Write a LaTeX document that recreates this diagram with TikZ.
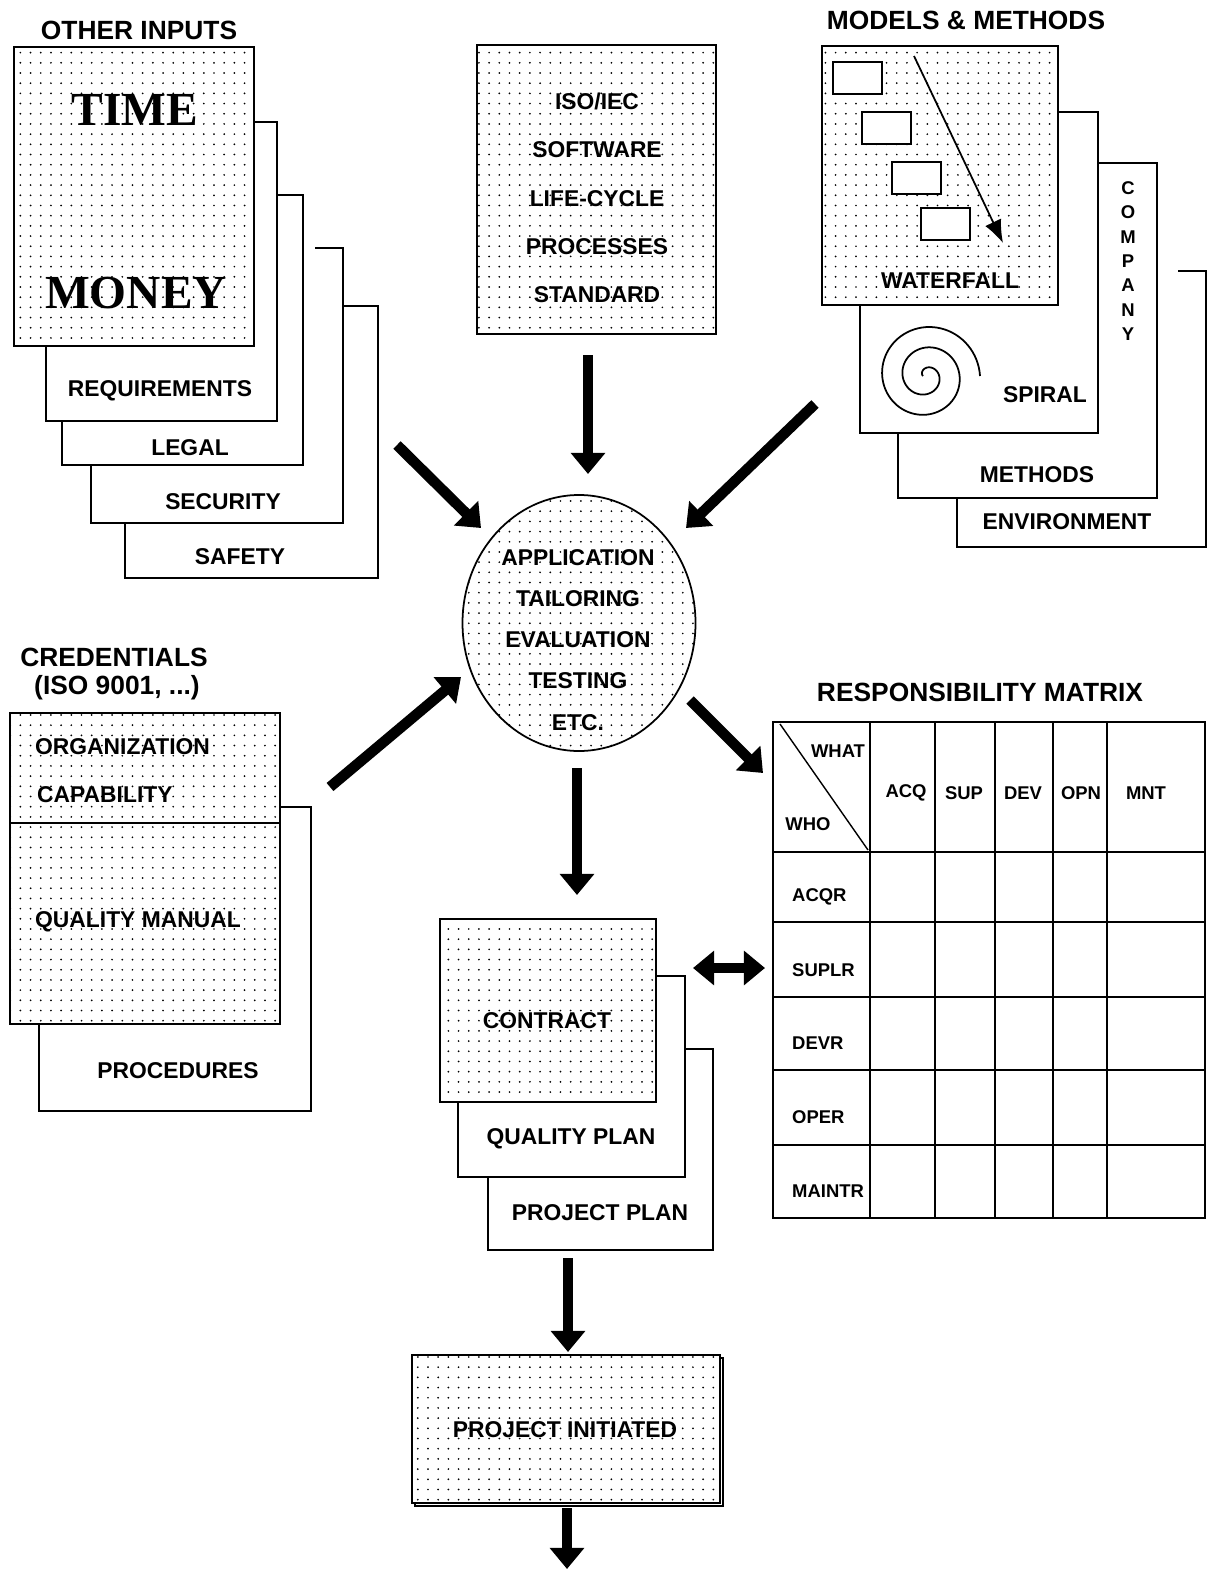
\documentclass[tikz,border=0pt]{standalone}
\usepackage{fontspec}
\setmainfont{Liberation Sans}
\newfontfamily\moneyfont{Liberation Serif}
\usetikzlibrary{arrows.meta,patterns.meta,shapes.geometric}

\tikzset{
  sheet/.style={draw, line width=1pt, fill=white},
  dotsheet/.style={draw, line width=1pt, fill=white,
    postaction={pattern={Dots[distance=5.8pt, radius=0.55pt]}}},
  bigarrow/.style={line width=6pt, -{Triangle[length=12pt,width=19pt]}},
  dblarrow/.style={line width=6pt, {Triangle[length=12pt,width=19pt]}-{Triangle[length=12pt,width=19pt]}},
  title/.style={font=\fontsize{15}{18}\selectfont\bfseries},
  lbl/.style={font=\fontsize{13}{16}\selectfont\bfseries},
  small/.style={font=\fontsize{10.5}{12}\selectfont\bfseries},
  bigword/.style={font=\moneyfont\bfseries\fontsize{27}{30}\selectfont},
}

\begin{document}
\begin{tikzpicture}[x=0.02cm, y=-0.02cm]
    \useasboundingbox (0,0) rectangle (1208,1571);
    %% Other inputs
    \node[title] (otherttl) at (139,30) {OTHER INPUTS};
    \draw[sheet] (125,306) rectangle (378,578);
    \fill[white] (91,248) rectangle (343,523);
    \draw[line width=1pt] (315,248) -- (343,248) -- (343,523) -- (91,523) -- (91,465);
    \draw[sheet] (62,195) rectangle (303,465);
    \draw[sheet] (46,122) rectangle (277,421);
    \draw[dotsheet] (14,47) rectangle (254,346);
    \node[bigword] (time) at (135,110) {TIME};
    \node[bigword] (money) at (136,293) {MONEY};
    \node[lbl] (req) at (160,391) {REQUIREMENTS};
    \node[lbl] (legal) at (190,448) {LEGAL};
    \node[lbl] (secu) at (223,502) {SECURITY};
    \node[lbl] (safety) at (240,557) {SAFETY};

    %% Standard
    \draw[dotsheet] (477,45) rectangle (716,334);
    \node[lbl, align=center, font=\fontsize{13}{27.5}\selectfont\bfseries] (iso) at (597,198)
        {ISO/IEC\\SOFTWARE\\LIFE-CYCLE\\PROCESSES\\STANDARD};

    %% Models and methods
    \node[title] (modttl) at (966,20) {MODELS \& METHODS};
    \fill[white] (957,271) rectangle (1206,547);
    \draw[line width=1pt] (1178,271) -- (1206,271) -- (1206,547) -- (957,547) -- (957,498);
    \draw[sheet] (898,163) rectangle (1157,498);
    \draw[sheet] (860,112) rectangle (1098,433);
    \draw[dotsheet] (822,46) rectangle (1058,305);
    \foreach \x/\y in {833/62, 862/112, 892/162, 921/208}
        \draw[sheet] (\x,\y) rectangle ++(49,32);
    \coordinate (wftop) at (914,56);
    \coordinate (wfend) at (1003,243);
    \draw[line width=1pt, -{Latex[length=13pt,width=10pt]}] (wftop) to (wfend);
    \node[lbl] (wfall) at (950,281) {WATERFALL};
    \draw[line width=1pt] plot[domain=180:1080, samples=200, smooth]
        ({926+(3+(\x-180)/900*51)*cos(\x)}, {376+(3+(\x-180)/900*51)*sin(\x)});
    \node[lbl] (spiral) at (1045,395) {SPIRAL};
    \foreach \l [count=\i] in {C,O,M,P,A,N,Y}
        \node[small] (comp\i) at (1128,164+24.3*\i) {\l};
    \node[lbl] (methods) at (1037,475) {METHODS};
    \node[lbl] (envir) at (1067,522) {ENVIRONMENT};

    %% Central bubble
    \node[dotsheet, ellipse, minimum width=233*0.02cm, minimum height=256*0.02cm] (bubble) at (579,623) {};
    \node[align=center, font=\fontsize{13}{23.4}\selectfont\bfseries] (bubtxt) at (578,640)
        {APPLICATION\\TAILORING\\EVALUATION\\TESTING\\ETC.};

    %% Credentials
    \node[title] (credttl) at (114,657) {CREDENTIALS};
    \node[title] (credsub) at (117,688) {(ISO 9001, ...)};
    \draw[sheet] (39,807) rectangle (311,1111);
    \draw[dotsheet] (10,713) rectangle (280,1024);
    \draw[line width=1pt] (10,823) -- (280,823);
    \node[lbl, anchor=west] (orga) at (29,747) {ORGANIZATION};
    \node[lbl, anchor=west] (capa) at (31,795) {CAPABILITY};
    \node[lbl, anchor=west] (qman) at (29,922) {QUALITY MANUAL};
    \node[lbl] (proc) at (178,1071) {PROCEDURES};

    %% Responsibility matrix
    \node[title] (matttl) at (980,692) {RESPONSIBILITY MATRIX};
    \draw[line width=1pt] (773,722) rectangle (1205,1218);
    \foreach \x in {870,935,995,1053,1107}
        \draw[line width=1pt] (\x,722) -- (\x,1218);
    \foreach \y in {852,922,997,1070,1145}
        \draw[line width=1pt] (773,\y) -- (1205,\y);
    \draw[line width=0.8pt] (780,724) -- (868,850);
    \node[small] (what) at (838,751) {WHAT};
    \node[small] (who) at (808,824) {WHO};
    \foreach \t/\x in {ACQ/906, SUP/964, DEV/1023, OPN/1081, MNT/1146}
        \node[small] (col\t) at (\x,793) {\t};
    \foreach \t/\y in {ACQR/897, SUPLR/970, DEVR/1043, OPER/1117, MAINTR/1191}
        \node[small, anchor=west] (row\t) at (786,\y) {\t};

    %% Contract and plans
    \draw[sheet] (488,1049) rectangle (713,1250);
    \draw[sheet] (458,976) rectangle (685,1177);
    \draw[dotsheet] (440,919) rectangle (656,1102);
    \node[lbl] (contract) at (547,1021) {CONTRACT};
    \node[lbl] (qplan) at (571,1139) {QUALITY PLAN};
    \node[lbl] (pplan) at (600,1213) {PROJECT PLAN};

    %% Project initiated
    \draw[line width=1pt, fill=white] (415,1358) rectangle (723,1506);
    \draw[dotsheet] (412,1355) rectangle (720,1503);
    \node[lbl] (initd) at (565,1430) {PROJECT INITIATED};

    %% Big arrows
    \coordinate (isoA) at (588,355);   \coordinate (isoB) at (588,474);
    \coordinate (othA) at (397,445);   \coordinate (othB) at (481,528);
    \coordinate (modA) at (815,404);   \coordinate (modB) at (686,528);
    \coordinate (creA) at (330,787);   \coordinate (creB) at (461,677);
    \coordinate (matA) at (690,700);   \coordinate (matB) at (763,773);
    \coordinate (bubA) at (577,768);   \coordinate (bubB) at (577,895);
    \coordinate (dblA) at (693,968);   \coordinate (dblB) at (765,968);
    \coordinate (plnA) at (568,1258);  \coordinate (plnB) at (568,1352);
    \coordinate (iniA) at (567,1508);  \coordinate (iniB) at (567,1569);
    \draw[bigarrow] (isoA) to (isoB);
    \draw[bigarrow] (othA) to (othB);
    \draw[bigarrow] (modA) to (modB);
    \draw[bigarrow] (creA) to (creB);
    \draw[bigarrow] (matA) to (matB);
    \draw[bigarrow] (bubA) to (bubB);
    \draw[dblarrow] (dblA) to (dblB);
    \draw[bigarrow] (plnA) to (plnB);
    \draw[bigarrow] (iniA) to (iniB);
\end{tikzpicture}
\end{document}
